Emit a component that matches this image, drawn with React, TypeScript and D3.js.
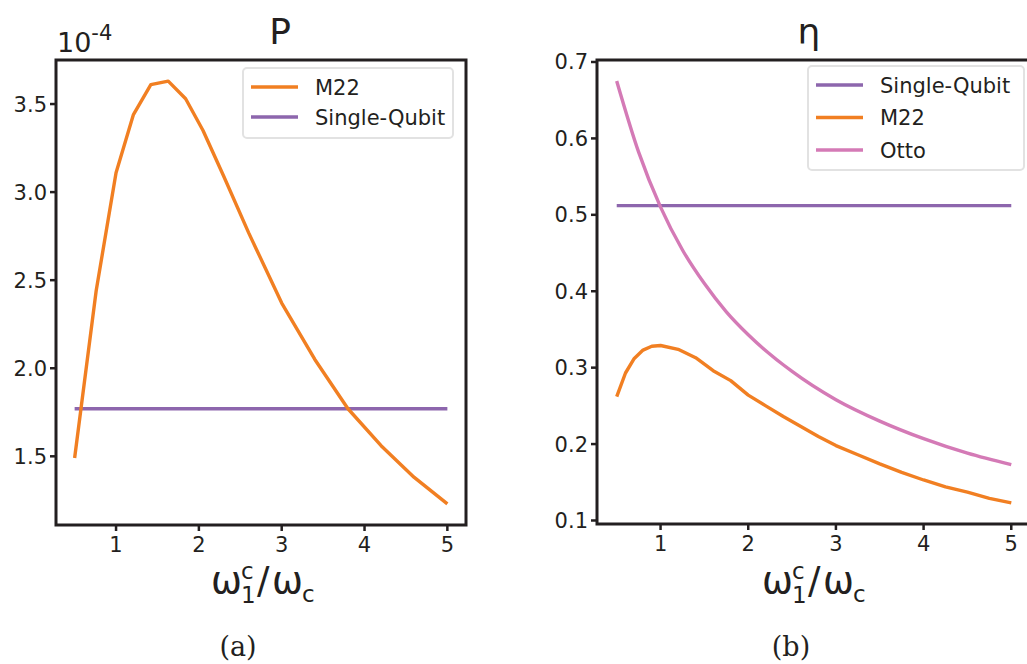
import React from "react";
import * as d3 from "d3";

// ---- data -------------------------------------------------------------
// Panel (a): power of the M22 engine (units of 1e-4) vs. ω1c/ωc
const powerX = [0.5, 0.76, 1.0, 1.21, 1.42, 1.63, 1.84, 2.05, 2.3, 2.6, 3.0, 3.4, 3.8, 4.2, 4.6, 5.0];
const powerM22 = [1.49, 2.44, 3.11, 3.44, 3.61, 3.63, 3.53, 3.35, 3.09, 2.77, 2.37, 2.05, 1.77, 1.56, 1.38, 1.23];
const powerSingleQubit = 1.77;

// Panel (b): efficiency vs. ω1c/ωc
const etaM22X = [0.5, 0.6, 0.7, 0.8, 0.9, 1.0, 1.2, 1.4, 1.6, 1.8, 2.0, 2.2, 2.4, 2.6, 2.8, 3.0, 3.25, 3.5, 3.75, 4.0, 4.25, 4.5, 4.75, 5.0];
const etaM22 = [0.262, 0.293, 0.312, 0.323, 0.328, 0.329, 0.324, 0.313, 0.296, 0.283, 0.264, 0.25, 0.236, 0.223, 0.21, 0.198, 0.186, 0.174, 0.163, 0.153, 0.144, 0.137, 0.129, 0.123];
const etaOttoX = [0.5, 0.75, 1.0, 1.25, 1.5, 1.75, 2.0, 2.5, 3.0, 3.5, 4.0, 4.5, 5.0];
const etaOtto = [0.675, 0.582, 0.51, 0.454, 0.41, 0.373, 0.343, 0.295, 0.258, 0.23, 0.207, 0.188, 0.173];
const etaSingleQubit = 0.512;

const xRange = [0.5, 5.0];
const xTicks = [1, 2, 3, 4, 5];
const powerTicks = [1.5, 2.0, 2.5, 3.0, 3.5];
const etaTicks = [0.1, 0.2, 0.3, 0.4, 0.5, 0.6, 0.7];

// ---- style ------------------------------------------------------------
const INK = "#231f20";
const ORANGE = "#f17f22";
const PURPLE = "#8d66ad";
const PINK = "#d47ab6";
const FONT = "DejaVu Sans, sans-serif";

type Series = { xs: number[]; ys: number[]; color: string; label: string; smooth?: boolean };

function padded(lo: number, hi: number): [number, number] {
  const p = (hi - lo) * 0.05;
  return [lo - p, hi + p];
}

function Panel(props: {
  left: number; top: number; right: number; bottom: number;
  series: Series[]; flat: { y: number; color: string; label: string };
  yTicks: number[]; yFmt: (v: number) => string; title: string;
  legendOrder: string[]; legend: { x: number; y: number; w: number; h: number; row: number };
  titleX: number; caption: string; captionX: number;
}) {
  const { left, top, right, bottom, series, flat, yTicks, yFmt } = props;
  const allY = series.flatMap((s) => s.ys).concat([flat.y]);
  const x = d3.scaleLinear().domain(padded(xRange[0], xRange[1])).range([left, right]);
  const y = d3.scaleLinear().domain(padded(d3.min(allY)!, d3.max(allY)!)).range([bottom, top]);
  const line = d3.line<[number, number]>().x((d) => x(d[0])).y((d) => y(d[1]));
  const smoothLine = d3.line<[number, number]>().x((d) => x(d[0])).y((d) => y(d[1])).curve(d3.curveMonotoneX);
  const clipId = "clip" + props.title.charCodeAt(0);
  const colorOf: Record<string, string> = {};
  series.forEach((s) => (colorOf[s.label] = s.color));
  colorOf[flat.label] = flat.color;
  const lg = props.legend;
  const axLabelX = (left + Math.min(right, 1027)) / 2;

  return (
    <g>
      <defs>
        <clipPath id={clipId}>
          <rect x={left} y={top} width={right - left} height={bottom - top} />
        </clipPath>
      </defs>
      <g clipPath={`url(#${clipId})`}>
        <path
          d={line([[xRange[0], flat.y], [xRange[1], flat.y]])!}
          fill="none" stroke={flat.color} strokeWidth={3.4}
        />
        {series.map((s) => {
          const pts = s.xs.map((v, i) => [v, s.ys[i]] as [number, number]);
          return (
            <path
              key={s.label}
              d={(s.smooth ? smoothLine(pts) : line(pts))!}
              fill="none" stroke={s.color} strokeWidth={3.4} strokeLinejoin="round"
            />
          );
        })}
      </g>
      {/* frame */}
      <rect x={left} y={top} width={right - left} height={bottom - top} fill="none" stroke={INK} strokeWidth={3} />
      {/* x ticks */}
      {xTicks.map((t) => (
        <g key={t}>
          <line x1={x(t)} x2={x(t)} y1={bottom} y2={bottom + 6} stroke={INK} strokeWidth={2.5} />
          <text x={x(t)} y={bottom + 27} fontSize={21} fontFamily={FONT} fill={INK} textAnchor="middle">{t}</text>
        </g>
      ))}
      {/* y ticks */}
      {yTicks.map((t) => (
        <g key={t}>
          <line x1={left - 6} x2={left} y1={y(t)} y2={y(t)} stroke={INK} strokeWidth={2.5} />
          <text x={left - 9} y={y(t) + 7.5} fontSize={21} fontFamily={FONT} fill={INK} textAnchor="end">{yFmt(t)}</text>
        </g>
      ))}
      {/* title */}
      <text x={props.titleX} y={44} fontSize={36} fontFamily={FONT} fill={INK} textAnchor="middle">{props.title}</text>
      {/* legend */}
      <rect x={lg.x} y={lg.y} width={lg.w} height={lg.h} rx={4} fill="white" fillOpacity={0.8} stroke="#e2e2e2" strokeWidth={2} />
      {props.legendOrder.map((name, i) => {
        const cy = lg.y + 19 + i * lg.row;
        return (
          <g key={name}>
            <line x1={lg.x + 8} x2={lg.x + 55} y1={cy} y2={cy} stroke={colorOf[name]} strokeWidth={3.4} />
            <text x={lg.x + 72} y={cy + 7.5} fontSize={21} fontFamily={FONT} fill={INK}>{name}</text>
          </g>
        );
      })}
      {/* axis label ω1c/ωc */}
      <g fontFamily={FONT} fill={INK} transform={`translate(${axLabelX - 50},593)`}>
        <text x={0} y={0} fontSize={37}>ω</text>
        <text x={30} y={10} fontSize={23}>1</text>
        <text x={30} y={-14} fontSize={23}>c</text>
        <text x={46} y={0} fontSize={37}>/</text>
        <text x={61} y={0} fontSize={37}>ω</text>
        <text x={91} y={9} fontSize={23}>c</text>
      </g>
      <text x={props.captionX} y={656} fontSize={27} fontFamily="DejaVu Serif, serif" fill={INK} textAnchor="middle">{props.caption}</text>
    </g>
  );
}

export default function App() {
  return (
    <svg width={1027} height={664} style={{ position: "absolute", left: 0, top: 0, background: "white" }}>
      <rect width={1027} height={664} fill="white" />
      <Panel
        left={56} top={60} right={466} bottom={525}
        series={[{ xs: powerX, ys: powerM22, color: ORANGE, label: "M22" }]}
        flat={{ y: powerSingleQubit, color: PURPLE, label: "Single-Qubit" }}
        yTicks={powerTicks} yFmt={(v) => v.toFixed(1)} title="P" titleX={280}
        legendOrder={["M22", "Single-Qubit"]}
        legend={{ x: 243, y: 68, w: 210, h: 70, row: 30 }}
        caption="(a)" captionX={238}
      />
      <text x={57} y={52} fontSize={27} fontFamily={FONT} fill={INK}>
        10<tspan dy={-12} fontSize={21}>-4</tspan>
      </text>
      <Panel
        left={597} top={60} right={1031} bottom={524}
        series={[
          { xs: etaM22X, ys: etaM22, color: ORANGE, label: "M22" },
          { xs: etaOttoX, ys: etaOtto, color: PINK, label: "Otto", smooth: true },
        ]}
        flat={{ y: etaSingleQubit, color: PURPLE, label: "Single-Qubit" }}
        yTicks={etaTicks} yFmt={(v) => v.toFixed(1)} title="η" titleX={809}
        legendOrder={["Single-Qubit", "M22", "Otto"]}
        legend={{ x: 808, y: 66, w: 216, h: 104, row: 32.5 }}
        caption="(b)" captionX={791}
      />
    </svg>
  );
}
